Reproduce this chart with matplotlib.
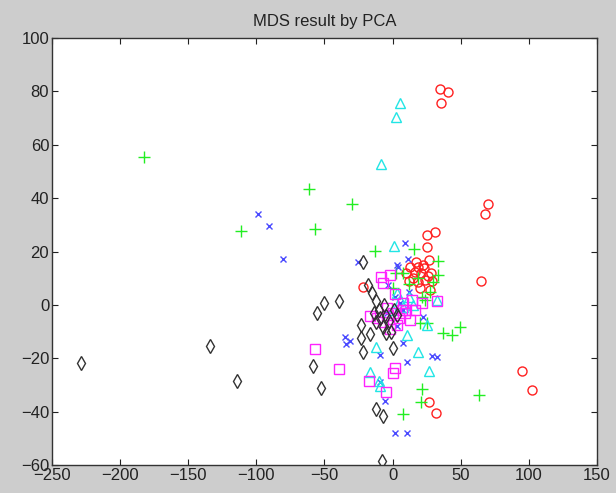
import numpy as np
import matplotlib
matplotlib.use("Agg")
from matplotlib import pyplot as plt

plt.rcParams['font.family'] = ['Liberation Sans', 'DejaVu Sans']

# 2-D coordinates of each group after the PCA projection
red_x = [35, 41, 35.5, 70, 68, 31, 25, 25.5, 26.5, 13, 19, 16.5, 21, 24, 19, 20, 27.5,
         65, 95, 102, 27, 32, -21.5, 10, 28, 22, 15, 29, 17, 23, 12, 26]
red_y = [81, 79.8, 75.6, 37.8, 34, 27.4, 26.2, 21.8, 17, 14.3, 14.3, 12.4, 11.8, 9.3, 8.7,
         6.2, 5.6, 9, -24.6, -32, -36.3, -40.4, 6.8, 12, 12, 15, 10, 9, 16, 14, 9, 11]

green_x = [-182.5, -111, -61, -57, -29.6, -13, 15.7, 33.5, 33.5, 29.8, 18.9, 7.8, 27.4,
           21.3, 20, 25, 37, 43.5, 49.5, 63.5, 21.3, 21, 7.4, 2.7, 0.5, 12, 24]
green_y = [55.5, 27.8, 43.3, 28.3, 37.7, 20.3, 20.8, 16.6, 11.2, 8.7, 10, 11.8, 4.9,
           3.1, -6.9, -6.9, -10.6, -11.3, -8.4, -33.8, -31.6, -36.3, -40.9, 11.8, 6.2, 8, 2]

blue_x = [-99, -91, -80.7, -35, -34.4, -31.3, 9, 11.5, -25.2, 3, 4.2, -9.3, 10.8, 28.6,
          32.3, 7.4, -5.6, 1.7, 10.3, 22.5, -3.2, 5.4, 2, 8, -4, 12, 3, -9]
blue_y = [34, 29.7, 17.1, -11.9, -14.6, -13.4, 23.3, 17.1, 16.2, 15, 14.3, -18.8, -21.3,
          -19, -19.4, -14.4, -35.9, -47.9, -47.9, -4.6, 7.5, 0.6, 3, -2, -3, 5, -8, -29]

cyan_x = [5.4, 2.2, -8.5, 1, 32.3, 25, 10.3, -12.2, 18.4, 26.9, -16.6, -9.8, -9.3, 3,
          5.4, 7.6, 0.3, 12, 15]
cyan_y = [75.8, 70.5, 52.7, 22.2, 1.8, -7.5, -11.3, -15.9, -17.8, -24.7, -25, -28.4,
          -30.4, 4.3, 1.8, -0.7, -1.9, 3, 0]

magenta_x = [-57, -39.4, -8.8, -1.9, -6.8, 32.3, 21.3, -16.6, 3, 12.8, 1.7, 0, -17.3,
             -4.9, 7.8, 0.5, -11.7, -3.2, 6.6, 16.4, -6.8, 2, 10, -4, 5, 9, -2, 14]
magenta_y = [-16.6, -24.1, 10.6, 11.2, 8.1, 1.6, 0.8, -4.2, -7.5, -5.7, -23.8, -25.4,
             -28.4, -32.5, 0.8, -3.2, -5, -3.8, -1.9, -1.9, -6.3, 4, -2, -1, -5, -3, -9, 2]

black_x = [-229, -134, -114, -58.7, -52.8, -55.3, -50.4, -39.1, -21.5, -17.8, -15.4,
           -12.2, -23.3, -23.3, -16.6, -4.9, -21.5, 0, -12.2, -7.3, -8, 3, -9.3, -6.8,
           -12.2, -5, -3, 1, -10, -6, -14, -1]
black_y = [-21.9, -15.3, -28.4, -22.9, -31.3, -3.2, 0.8, 1.5, 16, 7.5, 4.3, 1.5, -7.5,
           -12.5, -10.9, -10.6, -17.5, -16.3, -39.1, -41.6, -58.5, -3.8, -5, -8.2, -6.3,
           -4, -6, -2, -2, 0, -3, -10]

x_ticks = [-250, -200, -150, -100, -50, 0, 50, 100, 150]
y_ticks = [-60, -40, -20, 0, 20, 40, 60, 80, 100]

fig = plt.figure(figsize=(6.16, 4.93), dpi=100, facecolor='#cdcdcd')
ax = fig.add_axes([0.0844, 0.0568, 0.8847, 0.8661])
ax.set_facecolor('white')

groups = [
    (red_x, red_y, 'o', '#ff2020', 6.5),
    (green_x, green_y, '+', '#22ee22', 9),
    (blue_x, blue_y, 'x', '#4a4aff', 5),
    (cyan_x, cyan_y, '^', '#22e5e5', 7),
    (magenta_x, magenta_y, 's', '#ff22ff', 7.5),
    (black_x, black_y, 'd', '#333333', 7.5),
]
for gx, gy, mk, col, ms in groups:
    ax.plot(gx, gy, linestyle='none', marker=mk, markersize=ms,
            markerfacecolor='none', markeredgecolor=col, markeredgewidth=1.0)

ax.set_xlim(-250, 150)
ax.set_ylim(-60, 100)
ax.set_xticks(x_ticks)
ax.set_yticks(y_ticks)
ax.tick_params(direction='in', length=4, width=0.8, top=True, right=True,
               labelsize=12, colors='#222222', pad=2)
for sp in ax.spines.values():
    sp.set_linewidth(1.0)
    sp.set_color('#333333')

ax.set_title('MDS result by PCA', fontsize=12, color='#222222', pad=9)

fig.savefig('out.png', dpi=100, facecolor=fig.get_facecolor())
